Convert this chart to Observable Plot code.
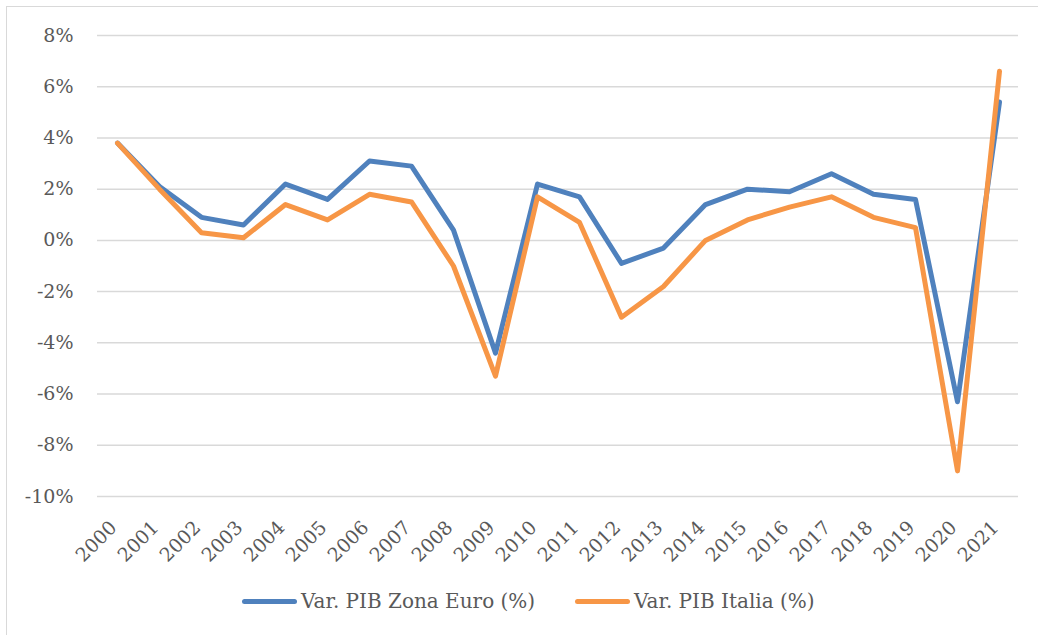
<!DOCTYPE html>
<html>
<head>
<meta charset="utf-8">
<script src="https://cdn.jsdelivr.net/npm/d3@7"></script>
<script src="https://cdn.jsdelivr.net/npm/@observablehq/plot@0.6"></script>
<style>
  html, body { margin: 0; padding: 0; background: #fff; width: 1038px; height: 635px; overflow: hidden; }
  #frame { position: absolute; left: 6px; top: 6px; width: 1100px; height: 700px; border: 1.5px solid #d9d9d9; box-sizing: border-box; }
  #chart { position: absolute; left: 0; top: 0; }
  .legend { position: absolute; top: 589px; font-family: "DejaVu Serif", "Noto Serif", Times, serif; font-size: 20px; color: #595959; display: flex; align-items: center; white-space: nowrap; }
  .swatch { width: 55px; height: 5px; border-radius: 3px; margin-right: 4px; }
</style>
</head>
<body>
<div id="frame"></div>
<div id="chart"></div>
<div class="legend" style="left:242px"><span class="swatch" style="background:#4f81bd"></span>Var. PIB Zona Euro (%)</div>
<div class="legend" style="left:575px"><span class="swatch" style="background:#f79646"></span>Var. PIB Italia (%)</div>
<script>
const years = ["2000","2001","2002","2003","2004","2005","2006","2007","2008","2009","2010","2011","2012","2013","2014","2015","2016","2017","2018","2019","2020","2021"];
const euro  = [3.8, 2.1, 0.9, 0.6, 2.2, 1.6, 3.1, 2.9, 0.4, -4.4, 2.2, 1.7, -0.9, -0.3, 1.4, 2.0, 1.9, 2.6, 1.8, 1.6, -6.3, 5.4];
const italy = [3.8, 2.0, 0.3, 0.1, 1.4, 0.8, 1.8, 1.5, -1.0, -5.3, 1.7, 0.7, -3.0, -1.8, 0.0, 0.8, 1.3, 1.7, 0.9, 0.5, -9.0, 6.6];
const yTicks = [-10, -8, -6, -4, -2, 0, 2, 4, 6, 8];
const seriesNames = ["Var. PIB Zona Euro (%)", "Var. PIB Italia (%)"];
const seriesColors = ["#4f81bd", "#f79646"];

const euroData = years.map((y, i) => ({year: y, value: euro[i]}));
const italyData = years.map((y, i) => ({year: y, value: italy[i]}));

const serif = "'DejaVu Serif', 'Noto Serif', Times, serif";

const chart = Plot.plot({
  width: 1038,
  height: 580,
  marginLeft: 97,
  marginRight: 20,
  marginTop: 35,
  marginBottom: 84,
  style: { fontFamily: serif, fontSize: "19px", color: "#595959", background: "transparent" },
  x: { type: "point", domain: years, range: [107, 1008], padding: 0 },
  y: { domain: [-10, 8] },
  marks: [
    Plot.gridY(yTicks, { stroke: "#d9d9d9", strokeOpacity: 1, strokeWidth: 1.5 }),
    Plot.axisY(yTicks, { tickSize: 0, tickPadding: 24, tickFormat: d => d + "%", label: null, fill: "#595959", fontFamily: serif }),
    Plot.axisX({ tickSize: 0, tickRotate: -45, tickPadding: 28, label: null, fill: "#595959", dx: -4, fontFamily: serif }),
    Plot.line(euroData, { x: "year", y: "value", stroke: seriesColors[0], strokeWidth: 5, strokeLinejoin: "round", strokeLinecap: "round" }),
    Plot.line(italyData, { x: "year", y: "value", stroke: seriesColors[1], strokeWidth: 5, strokeLinejoin: "round", strokeLinecap: "round" })
  ]
});
document.getElementById("chart").appendChild(chart);
</script>
</body>
</html>
